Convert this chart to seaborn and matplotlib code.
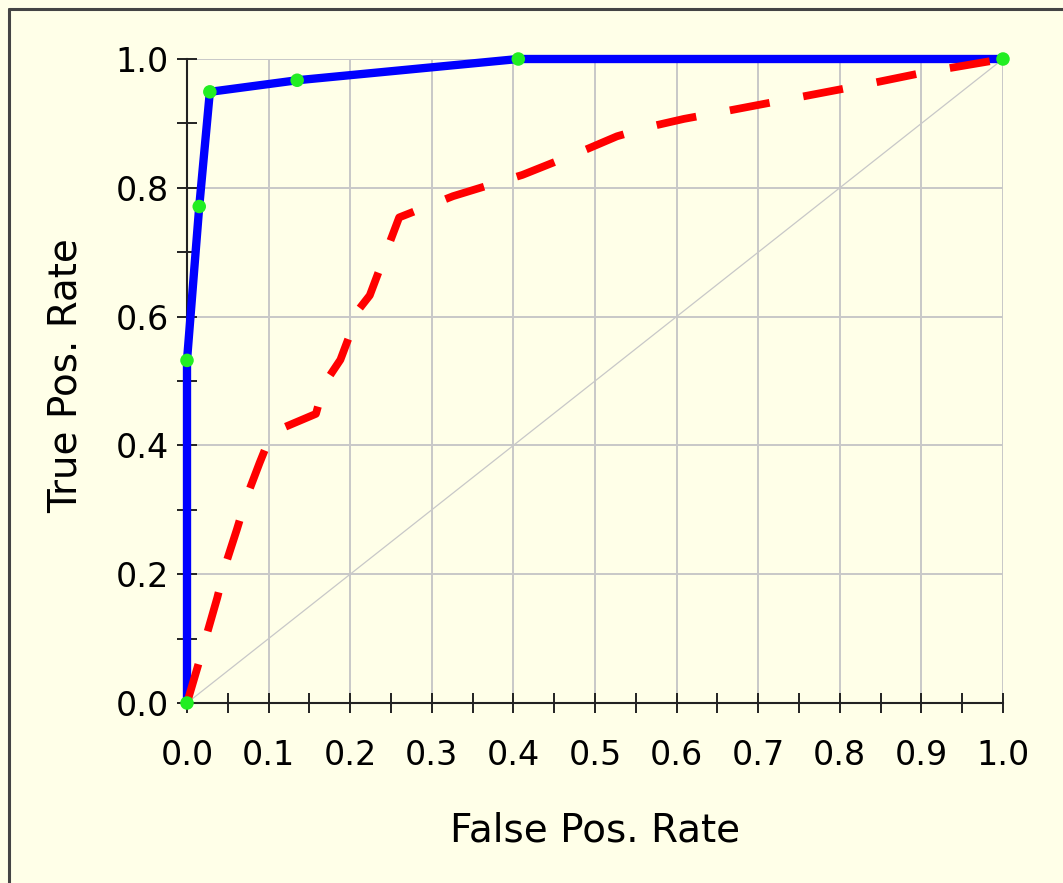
import matplotlib
matplotlib.use("Agg")
import matplotlib.pyplot as plt
from matplotlib.lines import Line2D
from matplotlib.ticker import MultipleLocator, FormatStrFormatter
import seaborn as sns

# ROC curve, first model (solid blue, green threshold points)
fpr_a = [0.0, 0.0, 0.015, 0.028, 0.135, 0.406, 1.0]
tpr_a = [0.0, 0.532, 0.771, 0.949, 0.967, 1.0, 1.0]

# ROC curve, second model (dashed red)
fpr_b = [0.0, 0.013, 0.025, 0.037, 0.048, 0.061, 0.074, 0.089, 0.104,
         0.158, 0.168, 0.188, 0.202, 0.203, 0.224, 0.26, 0.286, 0.326,
         0.411, 0.49, 0.527, 0.571, 0.609, 0.656, 0.739, 0.822, 0.907, 1.0]
tpr_b = [0.0, 0.056, 0.11, 0.163, 0.218, 0.269, 0.323, 0.373, 0.42,
         0.449, 0.495, 0.533, 0.58, 0.599, 0.633, 0.754, 0.767, 0.787,
         0.82, 0.86, 0.88, 0.896, 0.907, 0.918, 0.938, 0.958, 0.98, 1.0]

# chance diagonal
diag = [0.0, 1.0]

bg = "#FFFFE8"
sns.set_style("white")
plt.rcParams["font.family"] = ["DejaVu Sans"]

fig = plt.figure(figsize=(10.63, 8.83), dpi=100, facecolor=bg)
ax = fig.add_axes([187 / 1063, 180 / 883, 816 / 1063, 644 / 883])
ax.set_facecolor(bg)

ax.plot(diag, diag, color="#C8C8C8", lw=0.9, zorder=1)
sns.lineplot(x=fpr_a, y=tpr_a, sort=False, estimator=None, color="#0000FF",
             lw=6, clip_on=False, zorder=3, ax=ax)
sns.lineplot(x=fpr_b, y=tpr_b, sort=False, estimator=None, color="#FF0000",
             lw=5.6, dashes=(5.2, 4.4), clip_on=False, zorder=4, ax=ax)
sns.scatterplot(x=fpr_a, y=tpr_a, s=95, color="#22EE22", edgecolor="none",
                clip_on=False, zorder=5, ax=ax)

ax.set_xlim(0, 1)
ax.set_ylim(0, 1)
ax.xaxis.set_major_locator(MultipleLocator(0.1))
ax.xaxis.set_minor_locator(MultipleLocator(0.05))
ax.yaxis.set_major_locator(MultipleLocator(0.2))
ax.yaxis.set_minor_locator(MultipleLocator(0.1))
ax.xaxis.set_major_formatter(FormatStrFormatter("%.1f"))
ax.yaxis.set_major_formatter(FormatStrFormatter("%.1f"))

ax.grid(True, which="major", color="#C8C8C8", lw=1.4, zorder=0)
ax.set_axisbelow(True)
for side in ["top", "right"]:
    ax.spines[side].set_visible(False)
for side in ["left", "bottom"]:
    ax.spines[side].set_color("#222222")
    ax.spines[side].set_linewidth(1.5)

ax.tick_params(which="both", bottom=True, left=True, direction="inout",
               length=14.4, width=1.4, color="#222222", labelsize=24,
               labelcolor="black")
ax.tick_params(axis="x", which="both", pad=19)
ax.tick_params(axis="y", which="both", pad=6)

ax.set_xlabel("False Pos. Rate", fontsize=28, color="black")
ax.set_ylabel("True Pos. Rate", fontsize=28, color="black")
ax.xaxis.set_label_coords(0.5, -0.168)
ax.yaxis.set_label_coords(-0.125, 0.509)

# frame of the original window (left and top edges only)
fig.add_artist(Line2D([9 / 1063, 9 / 1063], [0, 1 - 9 / 883],
                      transform=fig.transFigure, color="#444444", lw=2.2))
fig.add_artist(Line2D([9 / 1063, 1], [1 - 9 / 883, 1 - 9 / 883],
                      transform=fig.transFigure, color="#444444", lw=2.2))

fig.savefig("out.png", dpi=100, facecolor=bg)
